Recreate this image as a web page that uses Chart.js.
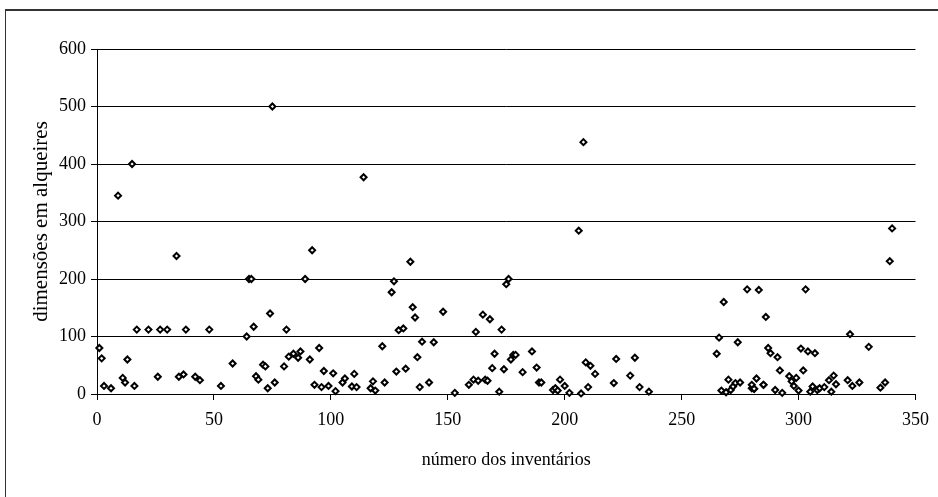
<!DOCTYPE html>
<html>
<head>
<meta charset="utf-8">
<script src="https://cdn.jsdelivr.net/npm/chart.js@4/dist/chart.umd.min.js"></script>
<style>
  html, body { margin: 0; padding: 0; background: #fff; overflow: hidden; }
  #frame { position: absolute; left: 5px; top: 9px; width: 1000px; height: 1000px;
           border-left: 1px solid #333; border-top: 2px solid #333; }
  #wrap { position: absolute; left: 0; top: 0; width: 938px; height: 497px; }
</style>
</head>
<body>
<div id="frame"></div>
<div id="wrap"><canvas id="chart" width="938" height="497"></canvas></div>
<script>
// número do inventário (x) e dimensão em alqueires (y)
const inventario = [
  1, 2, 3, 6, 9, 11, 12, 13, 15, 16, 17, 22, 26, 27, 30, 34, 35, 37, 38, 42,
  44, 48, 53, 58, 64, 65, 66, 67, 68, 69, 71, 72, 73, 74, 75, 76, 80, 81, 82, 84,
  86, 87, 89, 91, 92, 93, 95, 96, 97, 99, 101, 102, 105, 106, 109, 110, 111, 114, 117, 118,
  119, 122, 123, 126, 127, 128, 129, 131, 132, 134, 135, 136, 137, 138, 139, 142, 144, 148, 153, 159,
  161, 162, 163, 165, 166, 167, 168, 169, 170, 172, 173, 174, 175, 176, 177, 178, 179, 182, 186, 188,
  189, 190, 195, 196, 197, 198, 200, 202, 206, 207, 208, 209, 210, 211, 213, 221, 222, 228, 230, 232,
  236, 265, 266, 267, 268, 269, 270, 271, 272, 273, 274, 275, 278, 280, 280, 281, 281, 282, 283, 285,
  285, 286, 287, 288, 290, 291, 292, 293, 296, 297, 298, 299, 300, 301, 302, 303, 304, 305, 306, 307,
  308, 309, 311, 313, 314, 315, 316, 321, 322, 323, 326, 330, 335, 337, 339, 340
];
const alqueires = [
  80, 62, 14, 10, 345, 28, 20, 60, 400, 14, 112, 112, 30, 112, 112, 240, 30, 34, 112, 30,
  24, 112, 14, 53, 100, 200, 200, 117, 31, 25, 51, 48, 10, 140, 500, 20, 48, 112, 65, 70,
  63, 74, 200, 60, 250, 16, 80, 12, 40, 14, 36, 5, 20, 27, 13, 35, 12, 377, 10, 22,
  6, 83, 20, 177, 196, 39, 111, 114, 44, 230, 151, 133, 64, 12, 91, 20, 90, 143, 2, 16,
  25, 108, 23, 138, 25, 23, 130, 45, 70, 4, 112, 43, 191, 200, 60, 68, 68, 38, 74, 46,
  20, 20, 7, 10, 6, 25, 14, 2, 284, 1, 438, 55, 12, 49, 35, 19, 61, 32, 63, 12,
  4, 70, 98, 6, 160, 3, 25, 7, 13, 19, 90, 20, 182, 10, 16, 9, 9, 27, 181, 16,
  16, 134, 80, 71, 7, 64, 41, 2, 31, 22, 14, 28, 6, 79, 41, 182, 74, 4, 13, 71,
  7, 10, 12, 24, 4, 32, 17, 24, 104, 14, 20, 82, 11, 20, 231, 288
];
const xTicks = [0, 50, 100, 150, 200, 250, 300, 350];
const yTicks = [0, 100, 200, 300, 400, 500, 600];

const points = inventario.map((x, i) => ({ x, y: alqueires[i] }));
const SERIF = "'Liberation Serif', 'Times New Roman', serif";

new Chart(document.getElementById("chart"), {
  type: "scatter",
  data: {
    datasets: [{
      data: points,
      pointStyle: "rectRot",
      pointRadius: 3,
      pointBorderWidth: 2,
      pointBorderColor: "#000",
      pointBackgroundColor: "#fff",
      clip: false,
    }],
  },
  options: {
    responsive: false,
    animation: false,
    layout: { padding: { top: 49, right: 19, left: 0, bottom: 0 } },
    plugins: { legend: { display: false }, tooltip: { enabled: false } },
    scales: {
      x: {
        type: "linear", min: 0, max: 350,
        afterBuildTicks: (s) => { s.ticks = xTicks.map(v => ({ value: v })); },
        afterFit: (s) => { s.height = 103; },
        ticks: { color: "#000", padding: 9, font: { family: SERIF, size: 18 } },
        grid: { drawOnChartArea: false, drawTicks: true, tickLength: 6, color: "#000" },
        border: { display: true, color: "#000", width: 1 },
        title: {
          display: true, text: "número dos inventários", color: "#000",
          font: { family: SERIF, size: 18 }, padding: { top: 0, bottom: 26 },
        },
      },
      y: {
        type: "linear", min: 0, max: 600,
        afterBuildTicks: (s) => { s.ticks = yTicks.map(v => ({ value: v })); },
        afterFit: (s) => { s.width = 97; },
        ticks: { color: "#000", padding: 5, font: { family: SERIF, size: 18 } },
        grid: { color: "#000", lineWidth: 1, tickLength: 6 },
        border: { display: true, color: "#000", width: 1 },
        title: {
          display: true, text: "dimensões em alqueires", color: "#000",
          font: { family: SERIF, size: 21 }, padding: { top: 29, bottom: 0 },
        },
      },
    },
  },
});
</script>
</body>
</html>
